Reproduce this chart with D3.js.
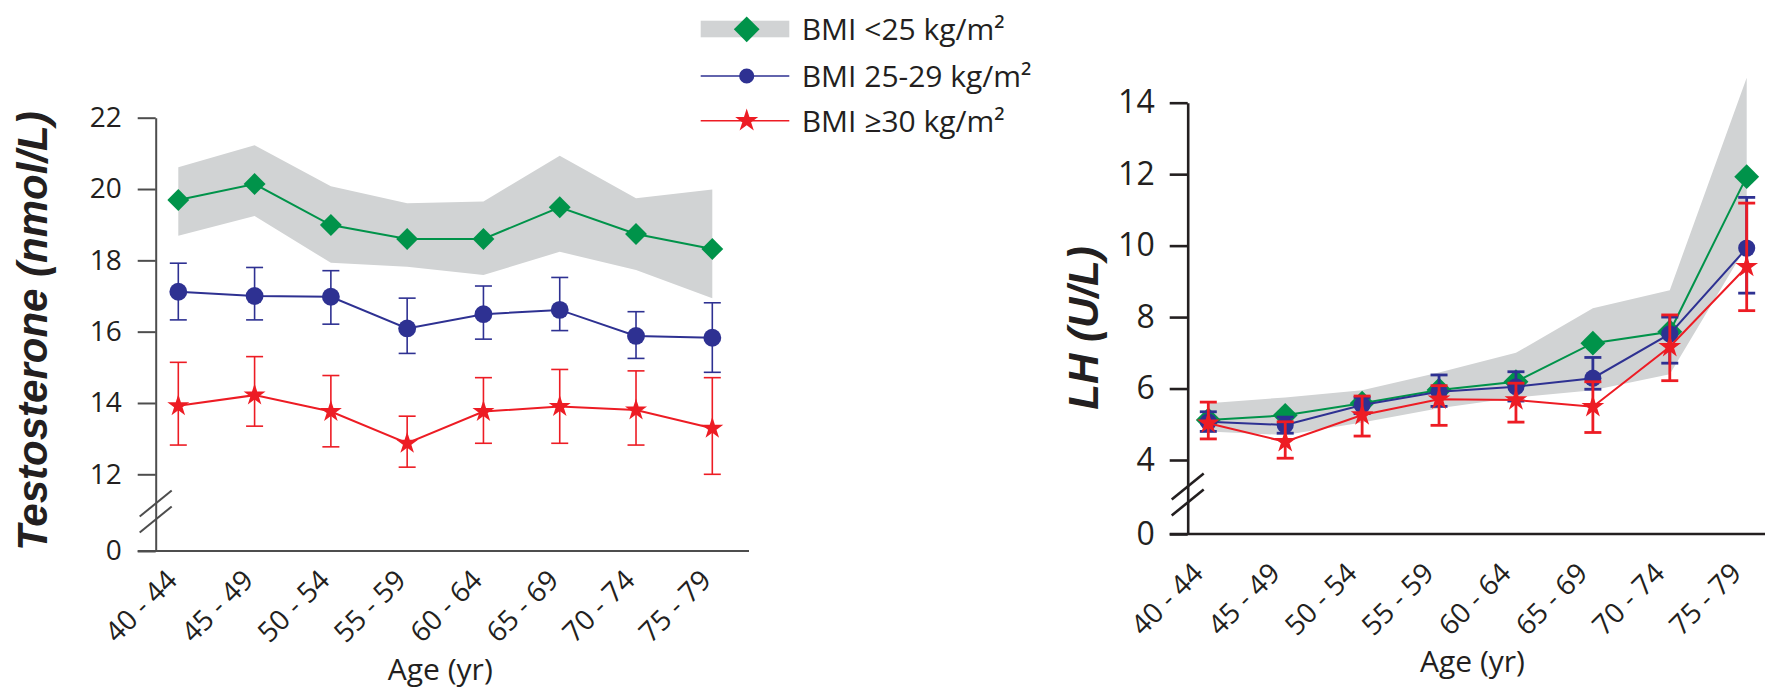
<!DOCTYPE html>
<html>
<head>
<meta charset="utf-8">
<script src="https://cdn.jsdelivr.net/npm/d3@7"></script>
<style>
  body { margin: 0; background: #fff; }
  text { font-family: "Open Sans", "Liberation Sans", sans-serif; fill: #231f20; }
</style>
</head>
<body>
<svg id="chart" width="1765" height="689"></svg>
<script>
// age groups (x axis)
const ages = ["40 - 44", "45 - 49", "50 - 54", "55 - 59", "60 - 64", "65 - 69", "70 - 74", "75 - 79"];

// Testosterone (nmol/L)
const tNormal   = [19.69, 20.14, 18.99, 18.60, 18.60, 19.49, 18.74, 18.32];
const tNormalHi = [20.61, 21.23, 20.08, 19.60, 19.65, 20.93, 19.74, 19.99];
const tNormalLo = [18.69, 19.24, 17.93, 17.82, 17.59, 18.24, 17.73, 16.94];
const tOver     = [17.12, 17.00, 16.98, 16.09, 16.49, 16.61, 15.88, 15.83];
const tOverHi   = [17.92, 17.80, 17.71, 16.94, 17.28, 17.52, 16.56, 16.81];
const tOverLo   = [16.33, 16.33, 16.21, 15.39, 15.79, 16.03, 15.25, 14.86];
const tObese    = [13.92, 14.22, 13.76, 12.87, 13.76, 13.90, 13.80, 13.29];
const tObeseHi  = [15.14, 15.30, 14.77, 13.63, 14.71, 14.94, 14.90, 14.71];
const tObeseLo  = [12.82, 13.35, 12.77, 12.20, 12.87, 12.87, 12.82, 12.00];
const tTicks = [0, 12, 14, 16, 18, 20, 22];

// LH (U/L)
const lhNormal   = [5.12, 5.25, 5.59, 5.96, 6.19, 7.27, 7.59, 11.93];
const lhNormalHi = [5.59, 5.75, 5.95, 6.45, 7.00, 8.25, 8.75, 14.70];
const lhNormalLo = [4.80, 4.70, 5.05, 5.45, 5.75, 5.95, 6.40, 10.00];
const lhOver     = [5.07, 4.98, 5.54, 5.91, 6.05, 6.29, 7.53, 9.93];
const lhOverHi   = [5.35, 5.20, 5.75, 6.38, 6.47, 6.87, 8.00, 11.35];
const lhOverLo   = [4.80, 4.75, 5.30, 5.50, 5.65, 5.98, 6.71, 8.67];
const lhObese    = [5.03, 4.51, 5.26, 5.70, 5.68, 5.49, 7.17, 9.41];
const lhObeseHi  = [5.62, 5.07, 5.79, 6.08, 6.15, 6.19, 8.06, 11.19];
const lhObeseLo  = [4.59, 4.05, 4.67, 4.97, 5.06, 4.77, 6.22, 8.18];
const lhTicks = [0, 4, 6, 8, 10, 12, 14];

const legendLabels = ["BMI <25 kg/m\u00B2", "BMI 25-29 kg/m\u00B2", "BMI \u226530 kg/m\u00B2"];

const GREEN = "#00934a", BLUE = "#2e3192", RED = "#ed1c24", BAND = "#d1d3d4";

const svg = d3.select("#chart");

function marker(kind, size) {
    if (kind == "diamond") return d3.symbol(d3.symbolSquare, size)();
    if (kind == "circle") return d3.symbol(d3.symbolCircle, size)();
    return d3.symbol(d3.symbolStar, size)();
}

function drawPanel(p) {
    const g = svg.append("g");

    const x = d3.scalePoint().domain(ages).range(p.xRange);
    // broken axis: 0 at the bottom, then jump to the first real tick
    const y = d3.scaleLinear()
        .domain([0, p.ticks[1], p.ticks[p.ticks.length - 1]])
        .range(p.yRange);

    // grey band for normal weight
    const band = d3.area()
        .x((d, i) => x(ages[i]))
        .y0((d, i) => y(p.normal.lo[i]))
        .y1((d, i) => y(p.normal.hi[i]));
    g.append("path").datum(p.normal.values).attr("d", band).attr("fill", BAND);

    // y axis
    const yAxis = g.append("g")
        .attr("transform", "translate(" + p.axisX + ",0)")
        .call(d3.axisLeft(y).tickValues(p.ticks).tickSize(18).tickSizeOuter(0).tickPadding(p.tickPad));
    yAxis.selectAll("path, line").attr("stroke", p.axisColor).attr("stroke-width", p.axisWidth);
    yAxis.selectAll("text").style("font-size", p.yFont + "px").attr("fill", "#231f20");

    // x axis line (longer than the data range)
    g.append("line")
        .attr("x1", p.axisX - 18).attr("x2", p.xAxisEnd)
        .attr("y1", y(0)).attr("y2", y(0))
        .attr("stroke", p.axisColor).attr("stroke-width", p.axisWidth);

    // axis break marks
    [0, 1].forEach(k => {
        const yb = y(0) - 34.5 + k * 16;
        g.append("line")
            .attr("x1", p.axisX - 16).attr("y1", yb)
            .attr("x2", p.axisX + 16).attr("y2", yb - 26)
            .attr("stroke", p.axisColor).attr("stroke-width", p.axisWidth);
    });

    // x tick labels, rotated
    const xAxis = g.append("g")
        .attr("transform", "translate(0," + y(0) + ")")
        .call(d3.axisBottom(x).tickSize(0));
    xAxis.select(".domain").remove();
    xAxis.selectAll("text")
        .attr("x", 0).attr("y", 0).attr("dy", null)
        .attr("text-anchor", "end")
        .attr("transform", "translate(" + p.labelDx + "," + p.labelDy + ") rotate(-45)")
        .style("font-size", "28px").attr("fill", "#231f20");

    g.append("text")
        .attr("x", d3.mean(p.xRange) - 5).attr("y", p.ageY)
        .attr("text-anchor", "middle").style("font-size", "30px")
        .text("Age (yr)");

    g.append("text")
        .attr("transform", "translate(" + p.titleX + "," + p.titleY + ") rotate(-90)")
        .attr("text-anchor", "middle")
        .style("font-family", "'Liberation Sans', Arial, sans-serif")
        .style("font-weight", "bold").style("font-style", "italic")
        .style("font-size", "42px").attr("fill", "#000")
        .text(p.title);

    // series, drawn green -> blue -> red
    const line = d3.line().x((d, i) => x(ages[i])).y(d => y(d));
    const series = [
        { s: p.normal, color: GREEN, kind: "diamond", bars: false },
        { s: p.over, color: BLUE, kind: "circle", bars: true },
        { s: p.obese, color: RED, kind: "star", bars: true }
    ];
    series.forEach(se => {
        const sg = g.append("g");
        if (se.bars) {
            se.s.values.forEach((v, i) => {
                const cx = x(ages[i]);
                sg.append("line").attr("x1", cx).attr("x2", cx)
                    .attr("y1", y(se.s.lo[i])).attr("y2", y(se.s.hi[i]))
                    .attr("stroke", se.color).attr("stroke-width", p.barWidth);
                [se.s.lo[i], se.s.hi[i]].forEach(e => {
                    sg.append("line").attr("x1", cx - 8.5).attr("x2", cx + 8.5)
                        .attr("y1", y(e)).attr("y2", y(e))
                        .attr("stroke", se.color).attr("stroke-width", p.barWidth);
                });
            });
        }
        sg.append("path").datum(se.s.values).attr("d", line)
            .attr("fill", "none").attr("stroke", se.color).attr("stroke-width", p.lineWidth);
        sg.selectAll(".m").data(se.s.values).enter().append("path")
            .attr("d", marker(se.kind, p.sizes[se.kind]))
            .attr("transform", (d, i) => "translate(" + x(ages[i]) + "," + y(d) + ")" + (se.kind == "diamond" ? " rotate(45)" : ""))
            .attr("fill", se.color);
    });
}

drawPanel({
    title: "Testosterone (nmol/L)",
    ticks: tTicks,
    xRange: [178.3, 712.3], yRange: [551, 474.3, 117.7],
    axisX: 155.7, xAxisEnd: 749, axisColor: "#4d4d4d", axisWidth: 2,
    tickPad: 16, yFont: 28,
    labelDx: 0, labelDy: 31, ageY: 680,
    titleX: 47, titleY: 331,
    barWidth: 1.6, lineWidth: 2,
    sizes: { diamond: 240, circle: 250, star: 150 },
    normal: { values: tNormal, hi: tNormalHi, lo: tNormalLo },
    over: { values: tOver, hi: tOverHi, lo: tOverLo },
    obese: { values: tObese, hi: tObeseHi, lo: tObeseLo }
});

drawPanel({
    title: "LH (U/L)",
    ticks: lhTicks,
    xRange: [1208.3, 1746.7], yRange: [534, 460, 102.7],
    axisX: 1187.7, xAxisEnd: 1765, axisColor: "#231f20", axisWidth: 2.6,
    tickPad: 15, yFont: 32,
    labelDx: -4, labelDy: 41, ageY: 672,
    titleX: 1098, titleY: 328,
    barWidth: 2.8, lineWidth: 2,
    sizes: { diamond: 310, circle: 230, star: 160 },
    normal: { values: lhNormal, hi: lhNormalHi, lo: lhNormalLo },
    over: { values: lhOver, hi: lhOverHi, lo: lhOverLo },
    obese: { values: lhObese, hi: lhObeseHi, lo: lhObeseLo }
});

// legend
const lg = svg.append("g");
const legendY = [29.3, 76, 120.7];
lg.append("rect").attr("x", 700.7).attr("y", 20.7).attr("width", 88.6).attr("height", 16.6).attr("fill", BAND);
lg.append("path").attr("d", marker("diamond", 330)).attr("transform", "translate(746.7," + legendY[0] + ") rotate(45)").attr("fill", GREEN);
[[BLUE, "circle", 180], [RED, "star", 165]].forEach((m, k) => {
    const yy = legendY[k + 1];
    lg.append("line").attr("x1", 700.7).attr("x2", 789.3).attr("y1", yy).attr("y2", yy)
        .attr("stroke", m[0]).attr("stroke-width", 1.6);
    lg.append("path").attr("d", marker(m[1], m[2])).attr("transform", "translate(746.7," + yy + ")").attr("fill", m[0]);
});
legendLabels.forEach((t, k) => {
    lg.append("text").attr("x", 801.7).attr("y", legendY[k] + 11)
        .style("font-size", "30px").text(t);
});
</script>
</body>
</html>
